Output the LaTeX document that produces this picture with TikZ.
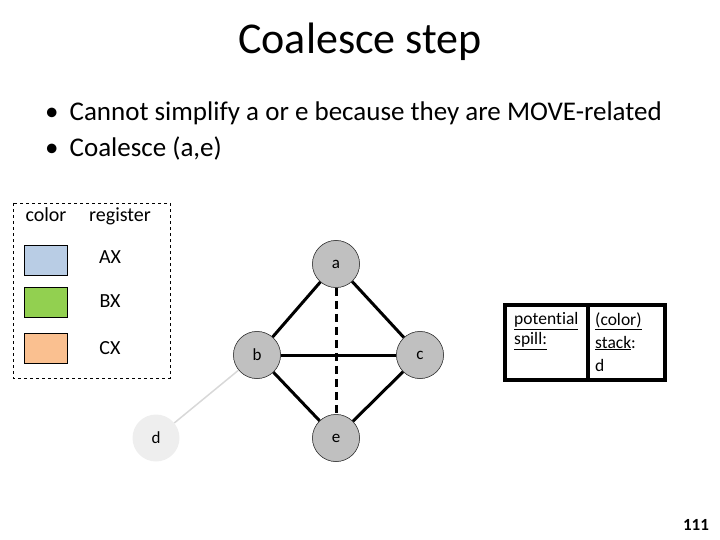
\documentclass[tikz,border=0pt]{standalone}
\usepackage{fontspec}
\setmainfont{Carlito}[Ligatures={NoCommon,NoRequired,NoContextual}]
\usetikzlibrary{calc}
\definecolor{cblue}{HTML}{B9CDE5}
\definecolor{cgreen}{HTML}{92D050}
\definecolor{corange}{HTML}{FAC090}
\definecolor{nodegray}{HTML}{C0C0C0}
\definecolor{dgray}{HTML}{EEEEEE}
\begin{document}
\begin{tikzpicture}[x=1pt,y=-1pt,
  vert/.style={circle,fill=nodegray,draw=black!80,line width=0.5pt,minimum size=47pt,inner sep=0pt,font=\fontsize{17}{19}\selectfont},
  faded/.style={circle,fill=dgray,draw=none,minimum size=47pt,inner sep=0pt,font=\fontsize{17}{19}\selectfont},
  edge/.style={line width=3pt},
  swatch/.style={draw=black,line width=0.8pt,minimum width=43pt,minimum height=30pt,inner sep=0pt},
  lbl/.style={font=\fontsize{20}{22}\selectfont,inner sep=0pt},
  cell/.style={draw=black,line width=4pt,fill=white},
  ctext/.style={font=\fontsize{17.5}{19}\selectfont,inner sep=0pt,anchor=west}
]
\useasboundingbox (0,0) rectangle (720,540);
\node[font=\fontsize{44}{50}\selectfont] (title) at (360,42) {Coalesce step};
\node[anchor=west,font=\fontsize{27}{30}\selectfont,inner sep=0pt] (b1) at (45,113) {•\hspace{11pt}Cannot simplify a or e because they are MOVE-related};
\node[anchor=west,font=\fontsize{27}{30}\selectfont,inner sep=0pt] (b2) at (45,148) {•\hspace{11pt}Coalesce (a,e)};
% legend
\draw[dashed,line width=0.8pt] (13,203) rectangle (170,378);
\node[lbl,anchor=base] (hcol) at (46,222) {color};
\node[lbl,anchor=base] (hreg) at (120,222) {register};
\node[swatch,fill=cblue] (s1) at (45.5,260) {};
\node[swatch,fill=cgreen] (s2) at (45.5,302) {};
\node[swatch,fill=corange] (s3) at (45.5,348) {};
\node[lbl] (AX) at (110,257) {AX};
\node[lbl] (BX) at (110,301) {BX};
\node[lbl] (CX) at (110,348) {CX};
% graph
\node[vert] (a) at (336,264) {a};
\node[vert] (b) at (257,355) {b};
\node[vert] (c) at (420,355) {c};
\node[vert] (e) at (336,438) {e};
\node[faded] (d) at (156,438) {d};
\draw[dgray!80!gray,line width=1.5pt] (b) -- (d);
\draw[edge] (a) -- (b);
\draw[edge] (a) -- (c);
\draw[edge] (b) -- (e);
\draw[edge] (c) -- (e);
\draw[edge] (b) -- (c);
\draw[edge,dash pattern=on 8pt off 5pt] (a) -- (e);
\node[vert] at (a) {a};
\node[vert] at (b) {b};
\node[vert] at (c) {c};
\node[vert] at (e) {e};
% spill box
\draw[cell] (505,305) rectangle (588,380);
\draw[cell] (588,305) rectangle (665,380);
\node[ctext] (p1) at (514,321) {\underline{poten\kern0pt tial}};
\node[ctext] (p2) at (514,341) {\underline{spill:}};
\node[ctext] (q1) at (595,321) {\underline{(color)}};
\node[ctext] (q2) at (595,343) {\underline{stack}:};
\node[ctext] (q3) at (595,365) {d};
\node[font=\bfseries\fontsize{17}{19}\selectfont] (pg) at (696,525) {111};
\end{tikzpicture}
\end{document}
